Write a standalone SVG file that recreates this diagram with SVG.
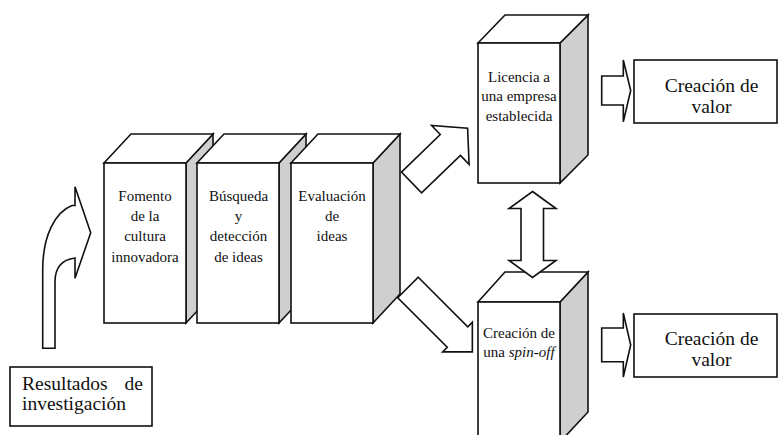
<svg xmlns="http://www.w3.org/2000/svg" width="778" height="435" viewBox="0 0 778 435">
  <style>
    .ln { stroke: #111; stroke-width: 1.6; stroke-linejoin: miter; }
    .front { fill: #fff; }
    .top { fill: #fff; }
    .side { fill: #cfcfcf; }
    .arrow { fill: #fff; stroke: #111; stroke-width: 1.6; stroke-linejoin: miter; }
    .t15 { font-family: "Liberation Serif", "Times New Roman", serif; font-size: 15px; fill: #111; text-anchor: middle; }
    .t20 { font-family: "Liberation Serif", "Times New Roman", serif; font-size: 19.5px; fill: #111; text-anchor: middle; }
    .t20s { font-family: "Liberation Serif", "Times New Roman", serif; font-size: 19.5px; fill: #111; }
  </style>

  <!-- results box -->
  <g id="resultados">
    <rect x="10" y="367" width="142" height="59" fill="#fff" class="ln"/>
    <text class="t20s" x="22" y="390">Resultados</text>
    <text class="t20s" x="143" y="390" text-anchor="end">de</text>
    <text class="t20s" x="22" y="410">investigación</text>
  </g>

  <!-- block 1 -->
  <g id="fomento">
    <polygon class="side ln" points="186,163 213,134 213,294 186,323"/>
    <polygon class="top ln" points="104,163 131,134 213,134 186,163"/>
    <rect class="front ln" x="104" y="163" width="82" height="160"/>
    <text class="t15" x="145" y="201">Fomento</text>
    <text class="t15" x="145" y="221">de la</text>
    <text class="t15" x="145" y="241">cultura</text>
    <text class="t15" x="145" y="261.5">innovadora</text>
  </g>

  <!-- block 2 -->
  <g id="busqueda">
    <polygon class="side ln" points="279,163 306,134 306,294 279,323"/>
    <polygon class="top ln" points="197,163 224,134 306,134 279,163"/>
    <rect class="front ln" x="197" y="163" width="82" height="160"/>
    <text class="t15" x="238.5" y="201">Búsqueda</text>
    <text class="t15" x="238.5" y="221">y</text>
    <text class="t15" x="238.5" y="241">detección</text>
    <text class="t15" x="238.5" y="261.5">de ideas</text>
  </g>

  <!-- block 3 -->
  <g id="evaluacion">
    <polygon class="side ln" points="373,163 400,134 400,294 373,323"/>
    <polygon class="top ln" points="291,163 318,134 400,134 373,163"/>
    <rect class="front ln" x="291" y="163" width="82" height="160"/>
    <text class="t15" x="332" y="201">Evaluación</text>
    <text class="t15" x="332" y="221">de</text>
    <text class="t15" x="332" y="241">ideas</text>
  </g>

  <!-- licensing block -->
  <g id="licencia">
    <polygon class="side ln" points="560,43 588,15 588,155 560,183"/>
    <polygon class="top ln" points="478,43 505,15 588,15 560,43"/>
    <rect class="front ln" x="478" y="43" width="82" height="140"/>
    <text class="t15" x="519" y="81.5">Licencia a</text>
    <text class="t15" x="519" y="101">una empresa</text>
    <text class="t15" x="519" y="120.5">establecida</text>
  </g>

  <!-- spin-off block -->
  <g id="spinoff">
    <polygon class="side ln" points="560,302 588,272 588,412 560,442"/>
    <polygon class="top ln" points="478,302 505,272 588,272 560,302"/>
    <rect class="front ln" x="478" y="302" width="82" height="140"/>
    <text class="t15" x="519" y="338">Creación de</text>
    <text class="t15" x="519" y="357">una <tspan font-style="italic">spin-off</tspan></text>
  </g>

  <!-- value creation boxes -->
  <g id="valor1">
    <rect class="front ln" x="634" y="60" width="143" height="63"/>
    <text class="t20" x="711.5" y="92">Creación de</text>
    <text class="t20" x="711.5" y="113">valor</text>
  </g>
  <g id="valor2">
    <rect class="front ln" x="634" y="314" width="143" height="63"/>
    <text class="t20" x="711.5" y="345">Creación de</text>
    <text class="t20" x="711.5" y="366">valor</text>
  </g>

  <!-- connectors -->
  <g id="connectors">
    <!-- curved arrow rising from the results box -->
    <path class="arrow" d="M42.7 348.3 L42.7 270 C42.7 236 55 212 72 205.5 L75 205.5 L75 186.7 L90.7 232.7 L75 278.3 L75 258 C63 259.5 55 267 55 282 L55 348.3 Z"/>
    <!-- diagonal arrow up to licensing -->
    <path class="arrow" transform="translate(411.5 182.5) rotate(-44)" d="M0 -14.5 L54 -14.5 L54 -27 L78 0 L54 27 L54 14.5 L0 14.5 Z"/>
    <!-- diagonal arrow down to spin-off -->
    <path class="arrow" transform="translate(408 287.5) rotate(45)" d="M0 -14.5 L70 -14.5 L70 -21 L91 0 L70 21 L70 14.5 L0 14.5 Z"/>
    <!-- two-way arrow between the outcomes -->
    <path class="arrow" d="M532.5 191.5 L556 208.5 L543.5 208.5 L543.5 260.5 L556 260.5 L532.5 277.5 L509 260.5 L521 260.5 L521 208.5 L509 208.5 Z"/>
    <!-- arrows into value creation -->
    <path class="arrow" d="M601.7 76 L623.3 76 L623.3 60 L630.7 90.5 L623.3 121.7 L623.3 105 L601.7 105 Z"/>
    <path class="arrow" d="M601.7 328 L623.3 328 L623.3 313 L630.7 345 L623.3 377 L623.3 361.7 L601.7 361.7 Z"/>
  </g>
</svg>
